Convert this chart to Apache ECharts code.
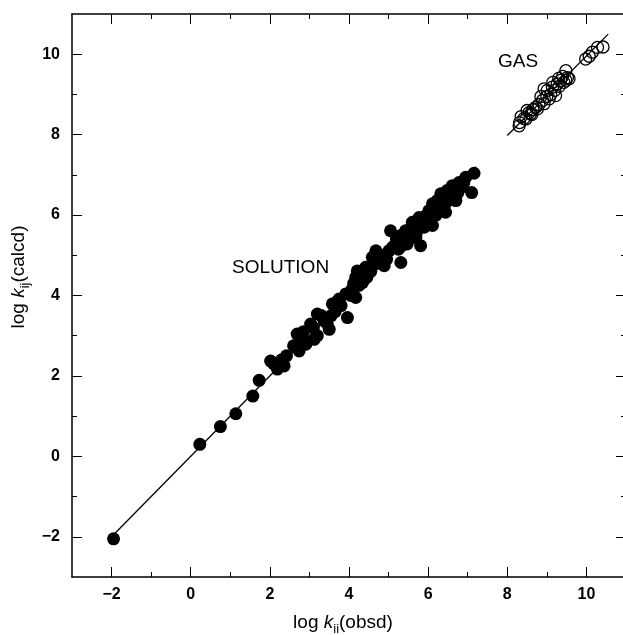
<!DOCTYPE html>
<html>
<head>
<meta charset="utf-8">
<script src="https://cdn.jsdelivr.net/npm/echarts@6/dist/echarts.min.js"></script>
<style>
  html, body { margin: 0; background: #fff; }
  #chart { width: 623px; height: 635px; }
</style>
</head>
<body>
<div id="chart"></div>
<script>
// tick positions
var majorTicks = [-2, 0, 2, 4, 6, 8, 10];
var minorTicks = [-1, 1, 3, 5, 7, 9];

// log k(obsd), log k(calcd) - solution phase (filled dots)
var solutionData = [
  [-1.95, -2.05], [0.23, 0.30], [0.75, 0.74], [1.14, 1.06], [1.57, 1.50], [1.73, 1.89],
  [2.02, 2.37], [2.10, 2.30], [2.19, 2.17], [2.30, 2.40], [2.36, 2.25], [2.42, 2.50],
  [2.60, 2.75], [2.69, 3.04], [2.74, 2.62], [2.80, 2.90], [2.85, 3.10], [2.91, 2.79],
  [3.03, 3.29], [3.10, 3.20], [3.12, 2.91], [3.20, 3.54], [3.20, 3.00], [3.30, 3.50],
  [3.37, 3.37], [3.45, 3.30], [3.50, 3.16], [3.55, 3.50], [3.58, 3.79], [3.65, 3.60],
  [3.70, 3.85], [3.75, 3.91], [3.80, 3.75], [3.92, 4.04], [3.96, 3.45], [4.05, 4.00],
  [4.08, 4.16], [4.12, 4.30], [4.17, 4.45], [4.17, 3.95], [4.21, 4.61], [4.25, 4.25],
  [4.30, 4.50], [4.34, 4.32], [4.42, 4.70], [4.45, 4.45], [4.55, 4.60], [4.59, 4.95],
  [4.60, 4.75], [4.68, 5.11], [4.70, 4.80], [4.80, 4.86], [4.85, 5.00], [4.89, 4.74],
  [4.95, 4.90], [5.01, 5.11], [5.05, 5.61], [5.10, 5.20], [5.18, 5.28], [5.20, 5.40],
  [5.25, 5.15], [5.31, 4.82], [5.31, 5.49], [5.35, 5.25], [5.40, 5.40], [5.43, 5.61],
  [5.47, 5.28], [5.50, 5.50], [5.55, 5.65], [5.60, 5.82], [5.60, 5.55], [5.65, 5.70],
  [5.69, 5.44], [5.70, 5.55], [5.75, 5.75], [5.77, 5.94], [5.81, 5.24], [5.85, 5.85],
  [5.90, 5.70], [5.94, 5.98], [6.02, 6.11], [6.05, 5.95], [6.11, 6.28], [6.11, 5.74],
  [6.15, 6.10], [6.20, 6.00], [6.23, 6.36], [6.25, 6.20], [6.30, 6.15], [6.32, 6.53],
  [6.35, 6.30], [6.40, 6.45], [6.44, 6.07], [6.45, 6.30], [6.48, 6.61], [6.55, 6.50],
  [6.60, 6.45], [6.61, 6.73], [6.65, 6.60], [6.70, 6.36], [6.75, 6.55], [6.78, 6.81],
  [6.85, 6.70], [6.90, 6.80], [6.95, 6.94], [7.10, 6.56], [7.16, 7.04]
];

// gas phase (open circles)
var gasData = [
  [8.30, 8.22], [8.31, 8.30], [8.35, 8.45], [8.42, 8.40], [8.47, 8.39], [8.50, 8.60],
  [8.55, 8.55], [8.59, 8.52], [8.62, 8.50], [8.65, 8.62], [8.72, 8.68], [8.76, 8.64],
  [8.80, 8.75], [8.85, 8.95], [8.89, 8.85], [8.93, 8.77], [8.93, 9.14], [9.00, 8.95],
  [9.01, 9.10], [9.06, 8.89], [9.10, 9.00], [9.14, 9.18], [9.15, 9.30], [9.20, 9.10],
  [9.22, 8.97], [9.26, 9.26], [9.30, 9.40], [9.31, 9.20], [9.35, 9.35], [9.40, 9.45],
  [9.43, 9.30], [9.48, 9.35], [9.48, 9.59], [9.52, 9.42], [9.56, 9.39], [9.98, 9.88],
  [10.07, 9.95], [10.15, 10.05], [10.28, 10.17], [10.42, 10.18]
];

// fitted lines
var solutionLine = [[-2, -2], [7.2, 7.2]];
var gasLine = [[8.0, 7.98], [10.55, 10.5]];

var FONT = "'Liberation Sans', Arial, sans-serif";
var lineCol = "#000";

function minusFmt(v) {
  return v < 0 ? "\u2212" + Math.abs(v) : String(v);
}

function makeAxis(pos, ticks, len, showLine, showLabel) {
  return {
    type: "value",
    position: pos,
    min: -3,
    max: 11,
    axisLine: { show: showLine, onZero: false, lineStyle: { color: lineCol, width: 1.5 } },
    axisTick: { show: true, inside: true, length: len, customValues: ticks, lineStyle: { color: lineCol, width: 1 } },
    axisLabel: {
      show: showLabel,
      customValues: ticks,
      formatter: minusFmt,
      fontFamily: FONT,
      fontSize: 16,
      fontWeight: "bold",
      color: "#000",
      margin: pos == "left" ? 12 : 10
    },
    splitLine: { show: false }
  };
}

// measure text for the mixed-style axis titles
var ctx = document.createElement("canvas").getContext("2d");
function fontStr(p) {
  return (p.italic ? "italic " : "") + p.size + "px " + FONT;
}
function makeTitle(parts, cx, cy, rot) {
  var total = 0;
  parts.forEach(function(p) {
    ctx.font = fontStr(p);
    p.w = ctx.measureText(p.t).width;
    total += p.w;
  });
  var x = -total / 2;
  var children = [];
  parts.forEach(function(p) {
    children.push({
      type: "text",
      x: x,
      y: p.sub ? 6.5 : 0,
      style: {
        text: p.t,
        font: fontStr(p),
        fill: "#000",
        align: "left",
        verticalAlign: "middle"
      }
    });
    x += p.w;
  });
  return { type: "group", x: cx, y: cy, rotation: rot, children: children };
}

var chart = echarts.init(document.getElementById("chart"));
chart.setOption({
  animation: false,
  backgroundColor: "#fff",
  grid: { left: 72, top: 14, width: 554, height: 563, outerBoundsMode: "none", containLabel: false },
  xAxis: [
    makeAxis("bottom", majorTicks, 10, true, true),
    makeAxis("bottom", minorTicks, 5, false, false),
    makeAxis("top", majorTicks, 10, true, false),
    makeAxis("top", minorTicks, 5, false, false)
  ],
  yAxis: [
    makeAxis("left", majorTicks, 10, true, true),
    makeAxis("left", minorTicks, 5, false, false),
    makeAxis("right", majorTicks, 10, true, false),
    makeAxis("right", minorTicks, 5, false, false)
  ],
  series: [
    {
      type: "line",
      data: solutionLine,
      symbol: "none",
      silent: true,
      lineStyle: { color: lineCol, width: 1.3 }
    },
    {
      type: "line",
      data: gasLine,
      symbol: "none",
      silent: true,
      lineStyle: { color: lineCol, width: 1.3 }
    },
    {
      type: "scatter",
      data: solutionData,
      symbol: "circle",
      symbolSize: 13,
      itemStyle: { color: "#000", opacity: 1 }
    },
    {
      type: "scatter",
      data: gasData,
      symbol: "circle",
      symbolSize: 12,
      itemStyle: { color: "rgba(0,0,0,0)", borderColor: "#000", borderWidth: 1.3, opacity: 1 }
    }
  ],
  graphic: [
    makeTitle([
      { t: "log ", size: 19 },
      { t: "k", size: 19, italic: true },
      { t: "ii", size: 13, sub: true },
      { t: "(obsd)", size: 19 }
    ], 343, 623, 0),
    makeTitle([
      { t: "log ", size: 19 },
      { t: "k", size: 19, italic: true },
      { t: "ij", size: 13, sub: true },
      { t: "(calcd)", size: 19 }
    ], 18.5, 277, Math.PI / 2),
    {
      type: "text", x: 232, y: 268,
      style: { text: "SOLUTION", font: "19px " + FONT, fill: "#000", align: "left", verticalAlign: "middle" }
    },
    {
      type: "text", x: 498, y: 62,
      style: { text: "GAS", font: "19px " + FONT, fill: "#000", align: "left", verticalAlign: "middle" }
    }
  ]
});
</script>
</body>
</html>
